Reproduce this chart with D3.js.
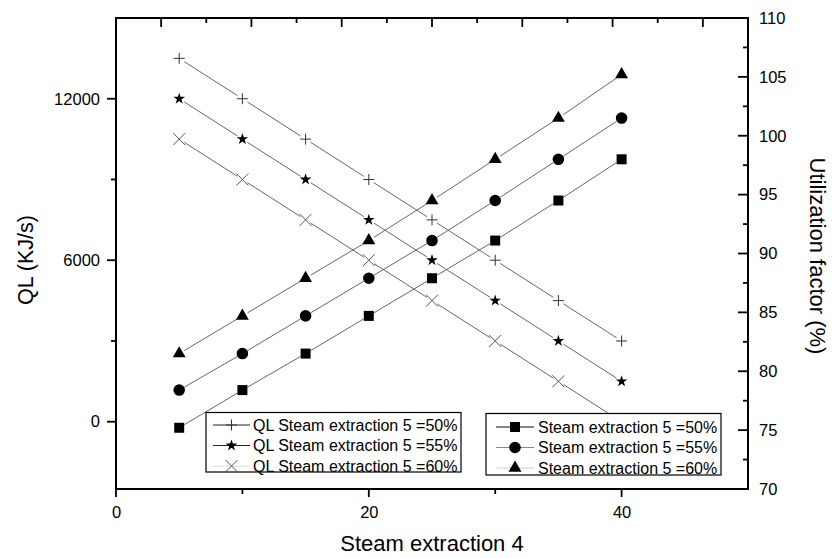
<!DOCTYPE html>
<html>
<head>
<meta charset="utf-8">
<script src="https://cdn.jsdelivr.net/npm/d3@7"></script>
<style>
  body { margin: 0; background: #fff; }
  text { font-family: "Liberation Sans", Arial, sans-serif; fill: #000; }
</style>
</head>
<body>
<div id="chart"></div>
<script>
// --------------------------------------
//  Data
// --------------------------------------

const steam4 = [5, 10, 15, 20, 25, 30, 35, 40];

const ql50 = [13500, 12000, 10500, 9000, 7500, 6000, 4500, 3000];
const ql55 = [12000, 10500, 9000, 7500, 6000, 4500, 3000, 1500];
const ql60 = [10500, 9000, 7500, 6000, 4500, 3000, 1500, 0];

const uf50 = [75.2, 78.4, 81.5, 84.7, 87.9, 91.1, 94.5, 98.0];
const uf55 = [78.4, 81.5, 84.7, 87.9, 91.1, 94.5, 98.0, 101.5];
const uf60 = [81.5, 84.7, 87.9, 91.1, 94.5, 98.0, 101.5, 105.2];

const qlLabels = ["QL Steam extraction 5 =50%", "QL Steam extraction 5 =55%", "QL Steam extraction 5 =60%"];
const ufLabels = ["Steam extraction 5 =50%", "Steam extraction 5 =55%", "Steam extraction 5 =60%"];

const xTicks = [0, 20, 40];
const xMinor = [10, 30];
const qlTicks = [0, 6000, 12000];
const qlMinor = [3000, 9000];
const ufTicks = [70, 75, 80, 85, 90, 95, 100, 105, 110];
const ufMinor = [72.5, 77.5, 82.5, 87.5, 92.5, 97.5, 102.5, 107.5];
const topMajor = [1, 3, 5, 7, 9, 11, 13];
const topMinor = [2, 4, 6, 8, 10, 12];

// --------------------------------------
//  Canvas
// --------------------------------------

const width = 832;
const height = 558;
const margin = {top: 18, right: 84, bottom: 69, left: 116};
const innerwidth = width - margin.left - margin.right;
const innerheight = height - margin.top - margin.bottom;

const svg = d3.select("#chart")
  .append("svg")
    .attr("width", width)
    .attr("height", height);

const g = svg.append("g")
    .attr("transform", `translate(${margin.left}, ${margin.top})`);

// --------------------------------------
//  Scales
// --------------------------------------

const x = d3.scaleLinear().domain([0, 50]).range([0, innerwidth]);
const yL = d3.scaleLinear().domain([-2500, 15000]).range([innerheight, 0]);
const yR = d3.scaleLinear().domain([70, 110]).range([innerheight, 0]);
const xTop = d3.scaleLinear().domain([0, 14]).range([0, innerwidth]);

// --------------------------------------
//  Markers
// --------------------------------------

const plus = {draw(ctx, r) { ctx.moveTo(-r, 0); ctx.lineTo(r, 0); ctx.moveTo(0, -r); ctx.lineTo(0, r); }};
const times = {draw(ctx, r) { ctx.moveTo(-r, -r); ctx.lineTo(r, r); ctx.moveTo(-r, r); ctx.lineTo(r, -r); }};

const qlSeries = [
  {values: ql50, sym: d3.symbol(plus, 5.5), fill: "none", stroke: "#333", label: qlLabels[0], legendLine: "#222"},
  {values: ql55, sym: d3.symbol(d3.symbolStar, 42), fill: "#000", stroke: "none", label: qlLabels[1], legendLine: "#222"},
  {values: ql60, sym: d3.symbol(times, 6), fill: "none", stroke: "#555", label: qlLabels[2], legendLine: "#ddd"}
];
const ufSeries = [
  {values: uf50, sym: d3.symbol(d3.symbolSquare, 100), fill: "#000", stroke: "none", label: ufLabels[0], legendLine: "#111"},
  {values: uf55, sym: d3.symbol(d3.symbolCircle, 105), fill: "#000", stroke: "none", label: ufLabels[1], legendLine: "#888"},
  {values: uf60, sym: d3.symbol(d3.symbolTriangle, 72), fill: "#000", stroke: "none", label: ufLabels[2], legendLine: "#ccc"}
];

// --------------------------------------
//  Data drawing
// --------------------------------------

const gap = 6;

function drawSeries(s, y) {
  const pts = s.values.map((v, i) => [x(steam4[i]), y(v)]);
  const segs = d3.pairs(pts).map(([a, b]) => {
    const dx = b[0] - a[0], dy = b[1] - a[1];
    const len = Math.hypot(dx, dy);
    const ux = dx / len, uy = dy / len;
    return [a[0] + ux * gap, a[1] + uy * gap, b[0] - ux * gap, b[1] - uy * gap];
  });
  g.append("g").selectAll("line")
    .data(segs)
    .join("line")
      .attr("x1", d => d[0]).attr("y1", d => d[1])
      .attr("x2", d => d[2]).attr("y2", d => d[3])
      .attr("stroke", "#555")
      .attr("stroke-width", 0.9);
  g.append("g").selectAll("path")
    .data(pts)
    .join("path")
      .attr("transform", d => `translate(${d[0]}, ${d[1]})`)
      .attr("d", s.sym)
      .attr("fill", s.fill)
      .attr("stroke", s.stroke)
      .attr("stroke-width", 1);
}

qlSeries.forEach(s => drawSeries(s, yL));
ufSeries.forEach(s => drawSeries(s, yR));

// --------------------------------------
//  Axes
// --------------------------------------

// tick marks drawn as plain lines from the scales
function ticksX(scale, values, y0, y1) {
  g.append("g").selectAll("line")
    .data(values)
    .join("line")
      .attr("x1", d => scale(d)).attr("x2", d => scale(d))
      .attr("y1", y0).attr("y2", y1)
      .attr("stroke", "#000")
      .attr("stroke-width", 1.8);
}
function ticksY(scale, values, x0, x1) {
  g.append("g").selectAll("line")
    .data(values)
    .join("line")
      .attr("y1", d => scale(d)).attr("y2", d => scale(d))
      .attr("x1", x0).attr("x2", x1)
      .attr("stroke", "#000")
      .attr("stroke-width", 1.8);
}

ticksX(x, xTicks, innerheight, innerheight + 8);
ticksX(x, xMinor, innerheight, innerheight + 5);
ticksX(xTop, topMajor, 0, 9);
ticksX(xTop, topMinor, 0, 5);
ticksY(yL, qlTicks, -9, 0);
ticksY(yL, qlMinor, -5, 0);
ticksY(yR, ufTicks, innerwidth - 10, innerwidth);
ticksY(yR, ufMinor, innerwidth - 5, innerwidth);

// labels through d3 axes
function labelAxis(axis, tx, ty) {
  g.append("g")
      .attr("transform", `translate(${tx}, ${ty})`)
      .call(axis)
      .call(sel => {
        sel.select(".domain").remove();
        sel.selectAll(".tick line").remove();
        sel.selectAll(".tick text").attr("font-size", "16.5px").attr("fill", "#000");
      });
}

labelAxis(d3.axisBottom(x).tickValues(xTicks).tickSize(0).tickPadding(17).tickFormat(d3.format("d")), 0, innerheight);
labelAxis(d3.axisLeft(yL).tickValues(qlTicks).tickSize(0).tickPadding(16).tickFormat(d3.format("d")), 0, 0);
labelAxis(d3.axisRight(yR).tickValues(ufTicks).tickSize(0).tickPadding(11).tickFormat(d3.format("d")), innerwidth, 0);

// frame
g.append("rect")
    .attr("width", innerwidth)
    .attr("height", innerheight)
    .attr("fill", "none")
    .attr("stroke", "#000")
    .attr("stroke-width", 2);

// titles
svg.append("text")
    .attr("x", 432)
    .attr("y", 551)
    .attr("text-anchor", "middle")
    .attr("font-size", "22px")
    .text("Steam extraction 4");

svg.append("text")
    .attr("transform", `translate(33, 260) rotate(-90)`)
    .attr("text-anchor", "middle")
    .attr("font-size", "21.5px")
    .text("QL (KJ/s)");

svg.append("text")
    .attr("transform", `translate(810, 256) rotate(90)`)
    .attr("text-anchor", "middle")
    .attr("font-size", "22px")
    .text("Utilization factor (%)");

// --------------------------------------
//  Legends
// --------------------------------------

function drawLegend(series, left, top, w, h, rowY, lineX0, lineX1, textX) {
  const lg = svg.append("g");
  lg.append("rect")
      .attr("x", left).attr("y", top)
      .attr("width", w).attr("height", h)
      .attr("fill", "#fff")
      .attr("stroke", "#000")
      .attr("stroke-width", 1.2);
  series.forEach((s, i) => {
    const cy = top + rowY[i];
    lg.append("line")
        .attr("x1", lineX0).attr("x2", lineX1)
        .attr("y1", cy).attr("y2", cy)
        .attr("stroke", s.legendLine)
        .attr("stroke-width", 1);
    lg.append("path")
        .attr("transform", `translate(${(lineX0 + lineX1) / 2}, ${cy})`)
        .attr("d", s.sym)
        .attr("fill", s.fill)
        .attr("stroke", s.stroke);
    lg.append("text")
        .attr("x", textX)
        .attr("y", cy)
        .attr("dy", "0.36em")
        .attr("font-size", "16px")
        .text(s.label);
  });
}

drawLegend(qlSeries, 206, 412.5, 255, 59.5, [12.5, 33, 53.5], 213, 250, 253);
drawLegend(ufSeries, 486, 413.5, 235, 61.5, [13.5, 34, 54.5], 496, 534, 538);
</script>
</body>
</html>
